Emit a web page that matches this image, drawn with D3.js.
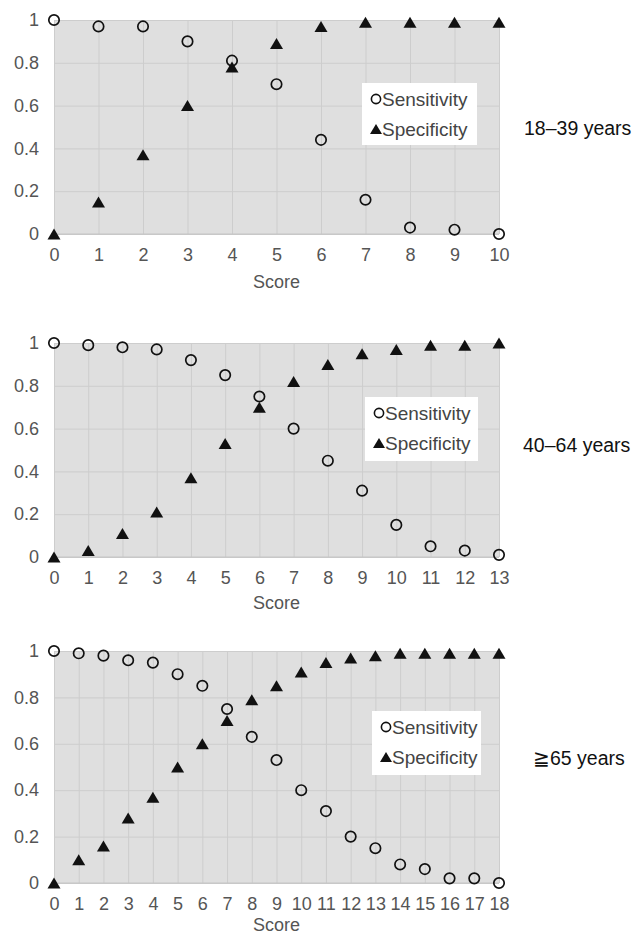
<!DOCTYPE html>
<html>
<head>
<meta charset="utf-8">
<script src="https://cdn.jsdelivr.net/npm/d3@7"></script>
<style>
  body { margin: 0; background: #fff; }
  svg { display: block; font-family: "Liberation Sans", Arial, sans-serif; }
</style>
</head>
<body>
<svg width="640" height="936"></svg>
<script>
// data
var scores1 = d3.range(0, 11);
var sens1 = [1.0, 0.97, 0.97, 0.90, 0.81, 0.70, 0.44, 0.16, 0.03, 0.02, 0.0];
var spec1 = [0.0, 0.15, 0.37, 0.60, 0.78, 0.89, 0.97, 0.99, 0.99, 0.99, 0.99];

var scores2 = d3.range(0, 14);
var sens2 = [1.0, 0.99, 0.98, 0.97, 0.92, 0.85, 0.75, 0.60, 0.45, 0.31, 0.15, 0.05, 0.03, 0.01];
var spec2 = [0.0, 0.03, 0.11, 0.21, 0.37, 0.53, 0.70, 0.82, 0.90, 0.95, 0.97, 0.99, 0.99, 1.0];

var scores3 = d3.range(0, 19);
var sens3 = [1.0, 0.99, 0.98, 0.96, 0.95, 0.90, 0.85, 0.75, 0.63, 0.53, 0.40, 0.31, 0.20, 0.15, 0.08, 0.06, 0.02, 0.02, 0.0];
var spec3 = [0.0, 0.10, 0.16, 0.28, 0.37, 0.50, 0.60, 0.70, 0.79, 0.85, 0.91, 0.95, 0.97, 0.98, 0.99, 0.99, 0.99, 0.99, 0.99];

var yTicks = [0, 0.2, 0.4, 0.6, 0.8, 1];
var groupLabels = ["18\u201339 years", "40\u201364 years", "\u226765 years"];
var seriesNames = ["Sensitivity", "Specificity"];

var svg = d3.select("svg");

var left = 54, right = 499;

var panels = [
  { scores: scores1, sens: sens1, spec: spec1, label: groupLabels[0], scoreGap: 54,
    top: 20, bottom: 234, legend: { x: 362, y: 83, w: 115, h: 62 }, labelPos: [524, 128] },
  { scores: scores2, sens: sens2, spec: spec2, label: groupLabels[1], scoreGap: 52,
    top: 343, bottom: 557, legend: { x: 365, y: 397, w: 113, h: 64 }, labelPos: [523, 445] },
  { scores: scores3, sens: sens3, spec: spec3, label: groupLabels[2], scoreGap: 48,
    top: 651, bottom: 883, legend: { x: 372, y: 711, w: 109, h: 64 }, labelPos: [533, 758] }
];

//triangle centred on its bounding box, like the spreadsheet markers
function triangle(w, h) {
  return "M0," + (-h / 2) + "L" + (w / 2) + "," + (h / 2) + "L" + (-w / 2) + "," + (h / 2) + "Z";
}

panels.forEach(function(p) {
  var x = d3.scaleLinear().domain([0, d3.max(p.scores)]).range([left, right]);
  var y = d3.scaleLinear().domain([0, 1]).range([p.bottom, p.top]);

  var g = svg.append("g");

  g.append("rect")
    .attr("x", left).attr("y", p.top)
    .attr("width", right - left).attr("height", p.bottom - p.top)
    .attr("fill", "#dfdfdf");

  //grid lines
  g.append("g")
    .attr("transform", "translate(0," + p.bottom + ")")
    .call(d3.axisBottom(x).tickValues(p.scores).tickSize(-(p.bottom - p.top)).tickFormat(""))
    .call(function(a) { a.select(".domain").remove(); })
    .selectAll("line").attr("stroke", "#cdcdcd");

  g.append("g")
    .attr("transform", "translate(" + left + ",0)")
    .call(d3.axisLeft(y).tickValues(yTicks).tickSize(-(right - left)).tickFormat(""))
    .call(function(a) { a.select(".domain").remove(); })
    .selectAll("line").attr("stroke", "#cdcdcd");

  g.append("line")
    .attr("x1", left).attr("x2", right)
    .attr("y1", p.bottom).attr("y2", p.bottom)
    .attr("stroke", "#c4c4c4");

  //tick labels
  var xAxis = g.append("g")
    .attr("transform", "translate(0," + p.bottom + ")")
    .call(d3.axisBottom(x).tickValues(p.scores).tickSize(0).tickPadding(14).tickFormat(d3.format("d")));
  xAxis.select(".domain").remove();
  xAxis.selectAll("text").attr("font-size", 18).attr("fill", "#555").style("font-family", "inherit");

  var yAxis = g.append("g")
    .attr("transform", "translate(" + left + ",0)")
    .call(d3.axisLeft(y).tickValues(yTicks).tickSize(0).tickPadding(15).tickFormat(function(d) { return d === 0 || d === 1 ? d : d3.format(".1f")(d); }));
  yAxis.select(".domain").remove();
  yAxis.selectAll("text").attr("font-size", 18).attr("fill", "#555").style("font-family", "inherit");

  g.append("text")
    .attr("x", (left + right) / 2).attr("y", p.bottom + p.scoreGap)
    .attr("text-anchor", "middle")
    .attr("font-size", 18).attr("fill", "#555")
    .text("Score");

  //markers
  g.append("g").selectAll("circle")
    .data(p.scores)
    .enter().append("circle")
    .attr("cx", function(d) { return x(d); })
    .attr("cy", function(d, i) { return y(p.sens[i]); })
    .attr("r", 5.2)
    .attr("fill", "none")
    .attr("stroke", "#111")
    .attr("stroke-width", 1.7);

  g.append("g").selectAll("path")
    .data(p.scores)
    .enter().append("path")
    .attr("d", triangle(13, 11))
    .attr("transform", function(d, i) { return "translate(" + x(d) + "," + y(p.spec[i]) + ")"; })
    .attr("fill", "#111");

  //legend
  var L = p.legend;
  var lg = g.append("g").attr("transform", "translate(" + L.x + "," + L.y + ")");
  lg.append("rect").attr("width", L.w).attr("height", L.h).attr("fill", "#fff");
  lg.append("circle").attr("cx", 14).attr("cy", 16).attr("r", 4.6)
    .attr("fill", "none").attr("stroke", "#111").attr("stroke-width", 1.6);
  lg.append("path").attr("d", triangle(12, 10)).attr("transform", "translate(14,46)").attr("fill", "#111");
  lg.selectAll("text")
    .data(seriesNames)
    .enter().append("text")
    .attr("x", 20)
    .attr("y", function(d, i) { return 16 + i * 30; })
    .attr("dy", "0.35em")
    .attr("font-size", 19)
    .attr("fill", "#444")
    .text(function(d) { return d; });

  g.append("text")
    .attr("x", p.labelPos[0]).attr("y", p.labelPos[1])
    .attr("dy", "0.35em")
    .attr("font-size", 19.5)
    .attr("fill", "#111")
    .text(p.label);
});
</script>
</body>
</html>
